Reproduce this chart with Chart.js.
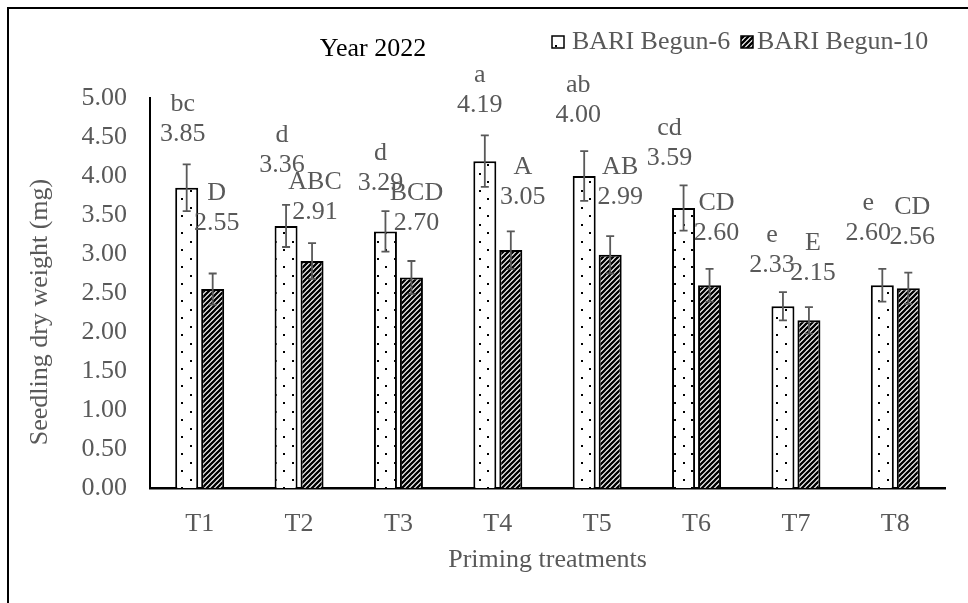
<!DOCTYPE html>
<html>
<head>
<meta charset="utf-8">
<script src="https://cdn.jsdelivr.net/npm/chart.js@4.4.0/dist/chart.umd.min.js"></script>
<style>
  html, body { margin: 0; padding: 0; background: #fff; }
  #wrap { width: 968px; height: 603px; position: relative; }
</style>
</head>
<body>
<div id="wrap"><canvas id="chart"></canvas></div>
<script>
// data
const categories = ['T1', 'T2', 'T3', 'T4', 'T5', 'T6', 'T7', 'T8'];
const begun6 = [3.85, 3.36, 3.29, 4.19, 4.00, 3.59, 2.33, 2.60];
const begun10 = [2.55, 2.91, 2.70, 3.05, 2.99, 2.60, 2.15, 2.56];
const err6 = [0.30, 0.27, 0.26, 0.33, 0.32, 0.29, 0.18, 0.21];
const err10 = [0.20, 0.23, 0.21, 0.24, 0.24, 0.21, 0.17, 0.20];
const letters6 = ['bc', 'd', 'd', 'a', 'ab', 'cd', 'e', 'e'];
const letters10 = ['D', 'ABC', 'BCD', 'A', 'AB', 'CD', 'E', 'CD'];
const yTicks = [0, 0.5, 1, 1.5, 2, 2.5, 3, 3.5, 4, 4.5, 5];

// where the (moved) data labels sit: axis value of the number line, x shift from bar
const labelY6 = [4.53, 4.14, 3.91, 4.91, 4.78, 4.23, 2.86, 3.27];
const labelDx6 = [-4, -4, -5, -5, -6, -14, -11, -14];
const labelY10 = [3.40, 3.53, 3.40, 3.73, 3.73, 3.27, 2.76, 3.22];
const labelDx10 = [4, 3, 5, 12, 10, 7, 4, 4];

const FONT = '"Liberation Serif", "Times New Roman", serif';
const GREY = '#595959';

// fill patterns
function dotPattern() {
    const c = document.createElement('canvas');
    c.width = 17; c.height = 17;
    const g = c.getContext('2d');
    g.fillStyle = '#fff';
    g.fillRect(0, 0, 17, 17);
    g.fillStyle = '#000';
    g.fillRect(3, 3, 2, 2);
    g.fillRect(11, 11, 2, 2);
    return g.createPattern(c, 'repeat');
}

function stripePattern() {
    const s = 5;
    const c = document.createElement('canvas');
    c.width = s; c.height = s;
    const g = c.getContext('2d');
    g.fillStyle = '#fff';
    g.fillRect(0, 0, s, s);
    g.strokeStyle = '#000';
    g.lineWidth = 2.3;
    g.beginPath();
    g.moveTo(-1, s + 1); g.lineTo(s + 1, -1);
    g.moveTo(-s / 2 - 1, s / 2 + 1); g.lineTo(s / 2 + 1, -s / 2 - 1);
    g.moveTo(s / 2 - 1, s * 1.5 + 1); g.lineTo(s * 1.5 + 1, s / 2 - 1);
    g.stroke();
    return g.createPattern(c, 'repeat');
}

const dots = dotPattern();
const stripes = stripePattern();

const overlay = {
    id: 'overlay',
    beforeDraw(chart) {
        const ctx = chart.ctx;
        ctx.save();
        ctx.strokeStyle = '#000';
        ctx.lineWidth = 2;
        ctx.beginPath();
        ctx.moveTo(8, 603);
        ctx.lineTo(8, 8);
        ctx.lineTo(968, 8);
        ctx.stroke();
        ctx.restore();
    },
    afterDatasetsDraw(chart) {
        const ctx = chart.ctx;
        const yScale = chart.scales.y;
        const sets = [
            { vals: begun6, err: err6, letters: letters6, ly: labelY6, dx: labelDx6 },
            { vals: begun10, err: err10, letters: letters10, ly: labelY10, dx: labelDx10 }
        ];
        ctx.save();
        sets.forEach(function (s, di) {
            const meta = chart.getDatasetMeta(di);
            meta.data.forEach(function (bar, i) {
                // error bar
                const top = yScale.getPixelForValue(s.vals[i] + s.err[i]);
                const bot = yScale.getPixelForValue(s.vals[i] - s.err[i]);
                ctx.strokeStyle = GREY;
                ctx.lineWidth = 1.8;
                ctx.beginPath();
                ctx.moveTo(bar.x, top); ctx.lineTo(bar.x, bot);
                ctx.moveTo(bar.x - 4, top); ctx.lineTo(bar.x + 4, top);
                ctx.moveTo(bar.x - 4, bot); ctx.lineTo(bar.x + 4, bot);
                ctx.stroke();
            });
        });
        // labels drawn after all error bars so they sit on top
        ctx.font = '26px ' + FONT;
        ctx.fillStyle = GREY;
        ctx.textAlign = 'center';
        ctx.textBaseline = 'middle';
        sets.forEach(function (s, di) {
            const meta = chart.getDatasetMeta(di);
            meta.data.forEach(function (bar, i) {
                const x = bar.x + s.dx[i];
                const y = yScale.getPixelForValue(s.ly[i]);
                ctx.fillText(s.vals[i].toFixed(2), x, y);
                ctx.fillText(s.letters[i], x, y - 30);
            });
        });
        ctx.restore();
    },
    afterDraw(chart) {
        const ctx = chart.ctx;
        ctx.save();
        ctx.font = '26px ' + FONT;
        ctx.textBaseline = 'middle';

        // title
        ctx.fillStyle = '#000';
        ctx.textAlign = 'center';
        ctx.fillText('Year 2022', 373, 49);

        // legend
        ctx.textAlign = 'left';
        const items = [
            { fill: dots, box: 552, text: 572, label: 'BARI Begun-6' },
            { fill: stripes, box: 741, text: 757, label: 'BARI Begun-10' }
        ];
        items.forEach(function (it) {
            ctx.fillStyle = it.fill;
            ctx.fillRect(it.box, 36, 12, 12);
            ctx.strokeStyle = '#000';
            ctx.lineWidth = 1.5;
            ctx.strokeRect(it.box, 36, 12, 12);
            ctx.fillStyle = GREY;
            ctx.fillText(it.label, it.text, 42);
        });

        // y axis title
        ctx.translate(40, 312);
        ctx.rotate(-Math.PI / 2);
        ctx.textAlign = 'center';
        ctx.fillStyle = GREY;
        ctx.fillText('Seedling dry weight (mg)', 0, 0);
        ctx.restore();
    }
};

const ctx = document.getElementById('chart').getContext('2d');

new Chart(ctx, {
    type: 'bar',
    data: {
        labels: categories,
        datasets: [
            {
                label: 'BARI Begun-6',
                data: begun6,
                backgroundColor: dots,
                borderColor: '#000',
                borderWidth: 2,
                categoryPercentage: 0.523,
                barPercentage: 0.885
            },
            {
                label: 'BARI Begun-10',
                data: begun10,
                backgroundColor: stripes,
                borderColor: '#000',
                borderWidth: 2,
                categoryPercentage: 0.523,
                barPercentage: 0.885
            }
        ]
    },
    options: {
        responsive: true,
        maintainAspectRatio: false,
        animation: false,
        layout: {
            padding: { top: 98, right: 23, bottom: 0, left: 0 }
        },
        plugins: {
            legend: { display: false },
            tooltip: { enabled: false }
        },
        scales: {
            x: {
                grid: { display: false, drawTicks: false },
                border: { display: true, color: '#000', width: 2.5 },
                ticks: {
                    color: GREY,
                    padding: 21,
                    font: { family: FONT, size: 26 }
                },
                title: {
                    display: true,
                    text: 'Priming treatments',
                    color: GREY,
                    padding: { top: 0, bottom: 27 },
                    font: { family: FONT, size: 26 }
                },
                afterFit: function (scale) { scale.height = 115; }
            },
            y: {
                min: 0,
                max: 5,
                grid: { display: false, drawTicks: false },
                border: { display: true, color: '#000', width: 2 },
                afterBuildTicks: function (scale) {
                    scale.ticks = yTicks.map(function (v) { return { value: v }; });
                },
                ticks: {
                    color: GREY,
                    padding: 23,
                    font: { family: FONT, size: 26 },
                    callback: function (v) { return Number(v).toFixed(2); }
                },
                afterFit: function (scale) { scale.width = 150; }
            }
        }
    },
    plugins: [overlay]
});
</script>
</body>
</html>
